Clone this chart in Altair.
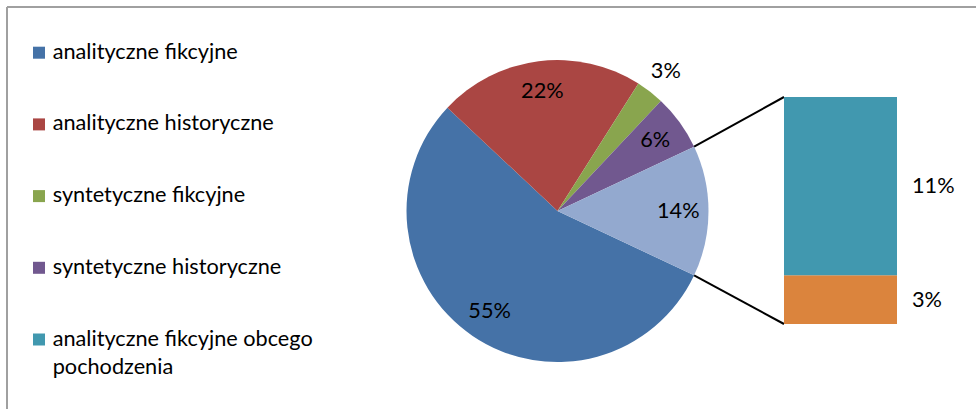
import math
import altair as alt
import pandas as pd

# ---------------- data ----------------
pie_categories = ["analityczne fikcyjne", "analityczne historyczne",
                  "syntetyczne fikcyjne", "syntetyczne historyczne", "Inne"]
pie_values = [55, 22, 3, 6, 14]

bar_categories = ["syntetyczne fikcyjne obcego pochodzenia",
                  "analityczne fikcyjne obcego pochodzenia"]
bar_values = [3, 11]

legend_categories = ["analityczne fikcyjne", "analityczne historyczne",
                     "syntetyczne fikcyjne", "syntetyczne historyczne",
                     "analityczne fikcyjne obcego pochodzenia"]
legend_labels = ["analityczne fikcyjne", "analityczne historyczne",
                 "syntetyczne fikcyjne", "syntetyczne historyczne",
                 "analityczne fikcyjne obcego\npochodzenia"]

all_categories = pie_categories + bar_categories
palette = ["#4572A7", "#AA4643", "#89A54E", "#71588F", "#93A9CF",
           "#DB843D", "#4198AF"]

# ---------------- layout ----------------
W, H = 976, 409
CX, CY, R = 557.5, 211, 151
BAR_X0, BAR_X1 = 784, 897
BAR_TOP, BAR_BOTTOM = 97, 324
FONT = "Lato"
FS = 21.7

total = sum(pie_values)
other = pie_values[-1]
start = 2 * math.pi * (0.25 + other / total / 2)
theta_scale = alt.Scale(domain=[0, total], range=[start, start + 2 * math.pi])
color_scale = alt.Scale(domain=all_categories, range=palette)

pie_df = pd.DataFrame({"cat": pie_categories, "value": pie_values,
                       "idx": list(range(len(pie_values)))})
pie_df["label"] = [f"{v}%" for v in pie_values]

bar_df = pd.DataFrame({"cat": bar_categories, "value": bar_values,
                       "idx": list(range(len(bar_values)))})
bar_df["label"] = [f"{v}%" for v in bar_values]

legend_df = pd.DataFrame({"cat": legend_categories, "label": legend_labels})

# ---------------- pie ----------------
pie_base = alt.Chart(pie_df).transform_stack(
    stack="value", as_=["t0", "t1"], groupby=[],
    sort=[alt.SortField("idx", order="ascending")]
).transform_calculate(
    mid="(datum.t0 + datum.t1) / 2",
    lr=f"datum.value < 5 ? {R * 1.17} : {R * 0.8}",
)

arcs = pie_base.mark_arc(radius=R).encode(
    theta=alt.Theta("t0:Q", scale=theta_scale, stack=None),
    theta2="t1:Q",
    color=alt.Color("cat:N", scale=color_scale, legend=None),
    x=alt.value(CX), y=alt.value(CY),
)

pie_text = pie_base.mark_text(font=FONT, fontSize=FS, color="black",
                              align="center", baseline="middle").encode(
    theta=alt.Theta("mid:Q", scale=theta_scale, stack=None),
    radius=alt.Radius("lr:Q", scale=None),
    text="label:N",
    x=alt.value(CX), y=alt.value(CY),
)

# ---------------- bar ----------------
bar_total = sum(bar_values)
y_bar = alt.Scale(domain=[0, bar_total], range=[BAR_BOTTOM, BAR_TOP])

bar_base = alt.Chart(bar_df).transform_stack(
    stack="value", as_=["y0", "y1"], groupby=[],
    sort=[alt.SortField("idx", order="ascending")]
).transform_calculate(
    mid="(datum.y0 + datum.y1) / 2"
)

bars = bar_base.mark_rect().encode(
    y=alt.Y("y0:Q", scale=y_bar, axis=None),
    y2="y1:Q",
    color=alt.Color("cat:N", scale=color_scale, legend=None),
    x=alt.value(BAR_X0), x2=alt.value(BAR_X1),
)

bar_text = bar_base.mark_text(font=FONT, fontSize=FS, color="black",
                              align="left", baseline="middle").encode(
    y=alt.Y("mid:Q", scale=y_bar, axis=None),
    x=alt.value(912),
    text="label:N",
)

# ---------------- connectors (derived from the data angles) ----------------
a_up = start - 2 * math.pi * other / total
a_low = start
conn_df = pd.DataFrame({
    "x1": [CX + R * math.sin(a_up), CX + R * math.sin(a_low)],
    "y1": [CY - R * math.cos(a_up), CY - R * math.cos(a_low)],
    "x2": [BAR_X0, BAR_X0],
    "y2": [BAR_TOP, BAR_BOTTOM],
})
connectors = alt.Chart(conn_df).mark_rule(color="black", strokeWidth=2).encode(
    x=alt.X("x1:Q", scale=None), y=alt.Y("y1:Q", scale=None),
    x2="x2:Q", y2="y2:Q",
)

# ---------------- frame ----------------
frame_df = pd.DataFrame({"x1": [7, 7], "y1": [7, 7], "x2": [W, 7], "y2": [7, H]})
frame = alt.Chart(frame_df).mark_rule(color="#A0A0A0", strokeWidth=2).encode(
    x=alt.X("x1:Q", scale=None), y=alt.Y("y1:Q", scale=None),
    x2="x2:Q", y2="y2:Q",
)

# ---------------- legend ----------------
leg_y = alt.Scale(domain=legend_categories, type="point", padding=0,
                  range=[52.7, 339.5])
leg_sym = alt.Chart(legend_df).mark_square(size=144, opacity=1).encode(
    y=alt.Y("cat:N", scale=leg_y, axis=None, sort=None),
    x=alt.value(39),
    color=alt.Color("cat:N", scale=color_scale, legend=None),
)
leg_txt = alt.Chart(legend_df).mark_text(
    font=FONT, fontSize=FS, color="black", align="left",
    baseline="alphabetic", dy=6, lineBreak="\n", lineHeight=28
).encode(
    y=alt.Y("cat:N", scale=leg_y, axis=None, sort=None),
    x=alt.value(52.7),
    text="label:N",
)

chart = alt.layer(
    frame, arcs, pie_text, connectors, bars, bar_text, leg_sym, leg_txt
).resolve_scale(
    y="independent", x="independent"
).properties(
    width=W, height=H, padding=0, autosize=alt.AutoSizeParams(type="none"),
    background="white"
).configure_view(stroke=None)

chart.save("out.html", embed_options={"renderer": "svg", "actions": False})
